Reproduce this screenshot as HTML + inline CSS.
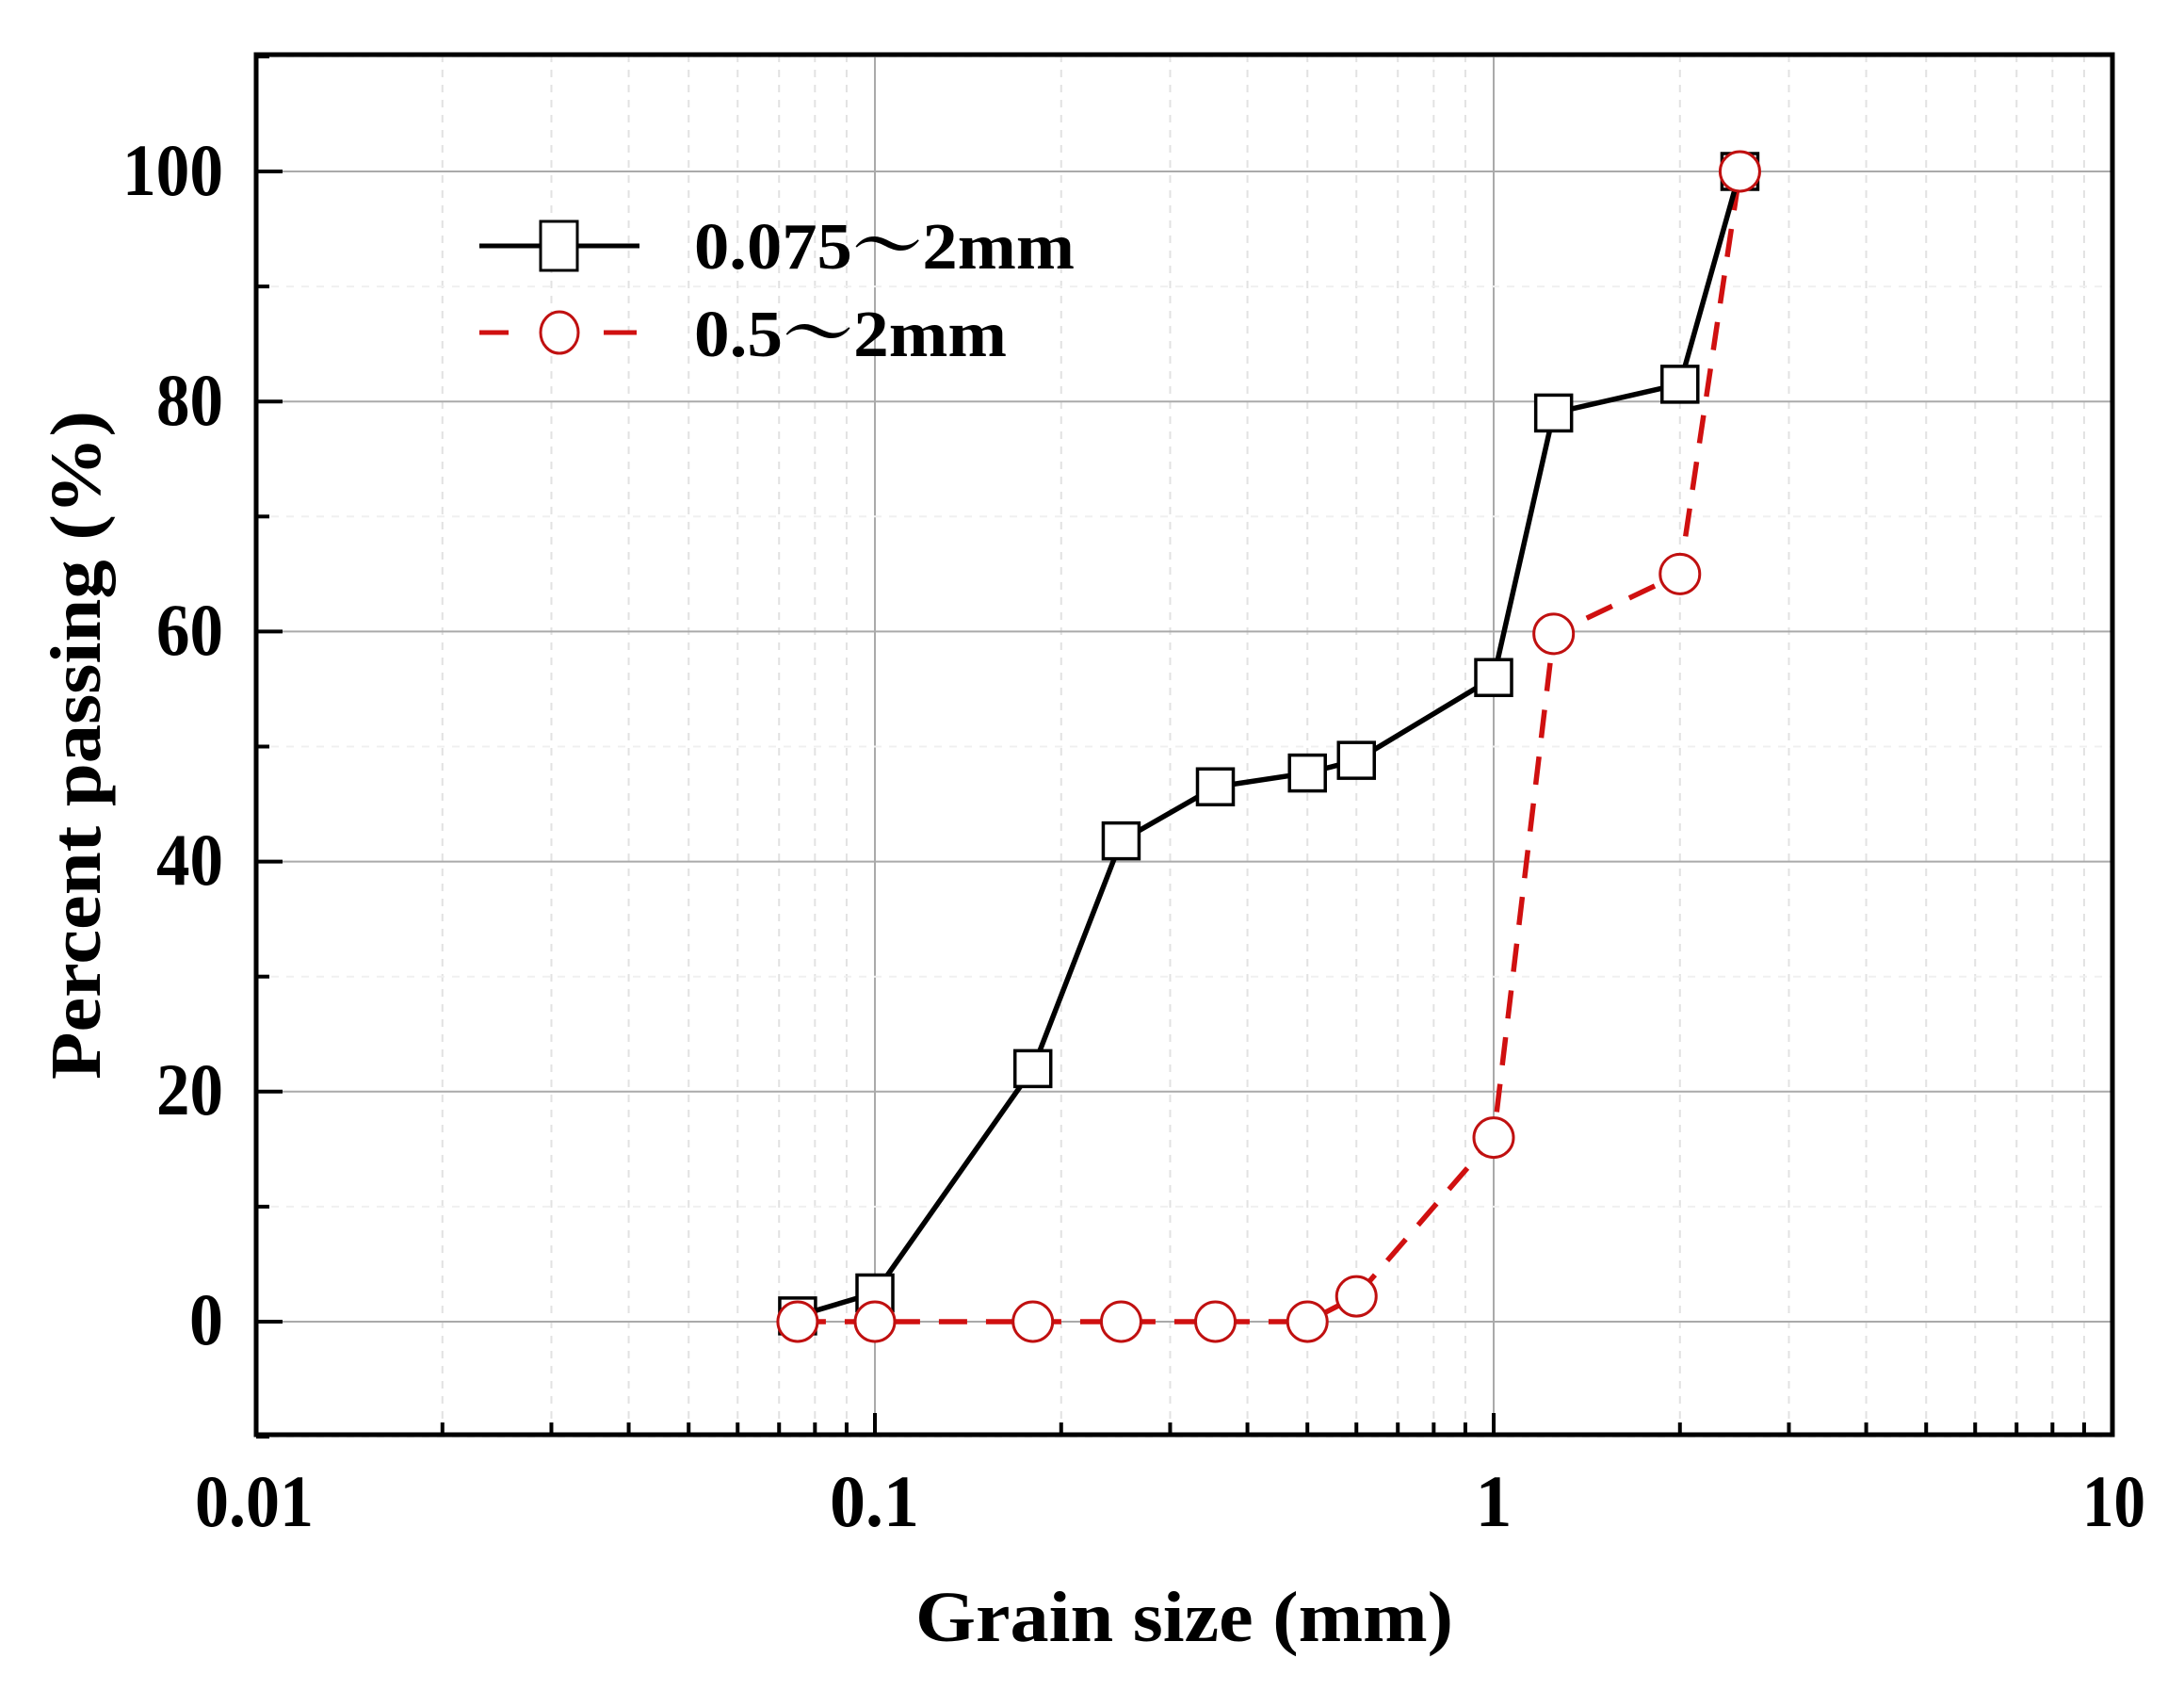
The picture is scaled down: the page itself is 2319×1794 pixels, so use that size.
<!DOCTYPE html>
<html><head><meta charset="utf-8"><style>
html,body{margin:0;padding:0;background:#fff;}
svg{display:block;font-family:"Liberation Serif","Noto Serif CJK SC",serif;font-weight:bold;}
</style></head><body>
<svg id="s" width="2319" height="1794" viewBox="0 0 2319 1794" xmlns="http://www.w3.org/2000/svg">
<rect width="2319" height="1794" fill="#fff"/>
<g id="grid"></g>
<g id="data"></g>
<rect x="272" y="58" width="1971" height="1465" fill="none" stroke="#000" stroke-width="5"/>
<g id="ticks" stroke="#000" stroke-width="4"></g>
<g font-size="78" fill="#000">
<text x="237" y="207" text-anchor="end" textLength="107" lengthAdjust="spacingAndGlyphs">100</text>
<text x="237" y="451" text-anchor="end" textLength="71" lengthAdjust="spacingAndGlyphs">80</text>
<text x="237" y="695" text-anchor="end" textLength="71" lengthAdjust="spacingAndGlyphs">60</text>
<text x="237" y="939" text-anchor="end" textLength="71" lengthAdjust="spacingAndGlyphs">40</text>
<text x="237" y="1183" text-anchor="end" textLength="71" lengthAdjust="spacingAndGlyphs">20</text>
<text x="237" y="1427" text-anchor="end" textLength="36" lengthAdjust="spacingAndGlyphs">0</text>
<text x="207" y="1620" textLength="126" lengthAdjust="spacingAndGlyphs">0.01</text>
<text x="881" y="1620" textLength="95" lengthAdjust="spacingAndGlyphs">0.1</text>
<text x="1586" y="1620" text-anchor="middle">1</text>
<text x="2211" y="1620" textLength="67" lengthAdjust="spacingAndGlyphs">10</text>
</g>
<text x="972" y="1742" font-size="76" textLength="571" lengthAdjust="spacingAndGlyphs">Grain size (mm)</text>
<text transform="translate(106,1146) rotate(-90)" font-size="76" textLength="710" lengthAdjust="spacingAndGlyphs">Percent passing (%)</text>
<g>
<line x1="509" y1="261" x2="679" y2="261" stroke="#000" stroke-width="5"/>
<rect x="574" y="235" width="39" height="52" fill="#fff" stroke="#000" stroke-width="3"/>
<line x1="509" y1="353" x2="540" y2="353" stroke="#d01010" stroke-width="5"/>
<line x1="641" y1="353" x2="676" y2="353" stroke="#d01010" stroke-width="5"/>
<ellipse cx="594" cy="353" rx="20" ry="22" fill="#fff" stroke="#c01010" stroke-width="3"/>
<text x="737" y="285" font-size="70" textLength="404" lengthAdjust="spacingAndGlyphs">0.075～2mm</text>
<text x="737" y="378" font-size="70" textLength="332" lengthAdjust="spacingAndGlyphs">0.5～2mm</text>
</g>
</svg>
<script>
var NS="http://www.w3.org/2000/svg";
function X(v){return 272+(Math.log10(v)+2)*657;}
function Y(p){return 1403-12.21*p;}
function el(p,t,a){var e=document.createElementNS(NS,t);for(var k in a)e.setAttribute(k,a[k]);p.appendChild(e);return e;}
var g=document.getElementById('grid'),tk=document.getElementById('ticks'),d=document.getElementById('data');
for(var dec=0.01;dec<5;dec*=10){for(var m=2;m<=9;m++){var x=X(dec*m);
el(g,'line',{x1:x,y1:58,x2:x,y2:1523,stroke:'#e2e2e2','stroke-width':2,'stroke-dasharray':'8,8'});
el(tk,'line',{x1:x,y1:1523,x2:x,y2:1510});}}
[0.1,1].forEach(function(v){var x=X(v);el(g,'line',{x1:x,y1:58,x2:x,y2:1523,stroke:'#aaa','stroke-width':2});el(tk,'line',{x1:x,y1:1523,x2:x,y2:1500});});
for(var p=-10;p<=110;p+=10){var y=Y(p);
if(p%20==0){el(g,'line',{x1:272,y1:y,x2:2243,y2:y,stroke:'#aaa','stroke-width':2});el(tk,'line',{x1:272,y1:y,x2:300,y2:y});}
else{el(g,'line',{x1:272,y1:y,x2:2243,y2:y,stroke:'#f0f0f0','stroke-width':2,'stroke-dasharray':'8,8'});el(tk,'line',{x1:272,y1:y,x2:286,y2:y});}}
var xs=[0.075,0.1,0.18,0.25,0.355,0.5,0.6,1,1.25,2,2.5];
var b=[0.5,2.5,22,41.8,46.5,47.7,48.8,56,79,81.5,100];
var r=[0,0,0,0,0,0,2.2,16,59.8,65,100];
function pts(a){return xs.map(function(v,i){return X(v)+','+Y(a[i]);}).join(' ');}
el(d,'polyline',{points:pts(r),fill:'none',stroke:'#d01010','stroke-width':5.5,'stroke-dasharray':'30,20'});
el(d,'polyline',{points:pts(b),fill:'none',stroke:'#000','stroke-width':5.5});
xs.forEach(function(v,i){el(d,'rect',{x:X(v)-19,y:Y(b[i])-19,width:38,height:38,fill:'#fff',stroke:'#000','stroke-width':3.5});});
xs.forEach(function(v,i){el(d,'circle',{cx:X(v),cy:Y(r[i]),r:21,fill:'#fff',stroke:'#c01010','stroke-width':3});});
</script>
</body></html>
